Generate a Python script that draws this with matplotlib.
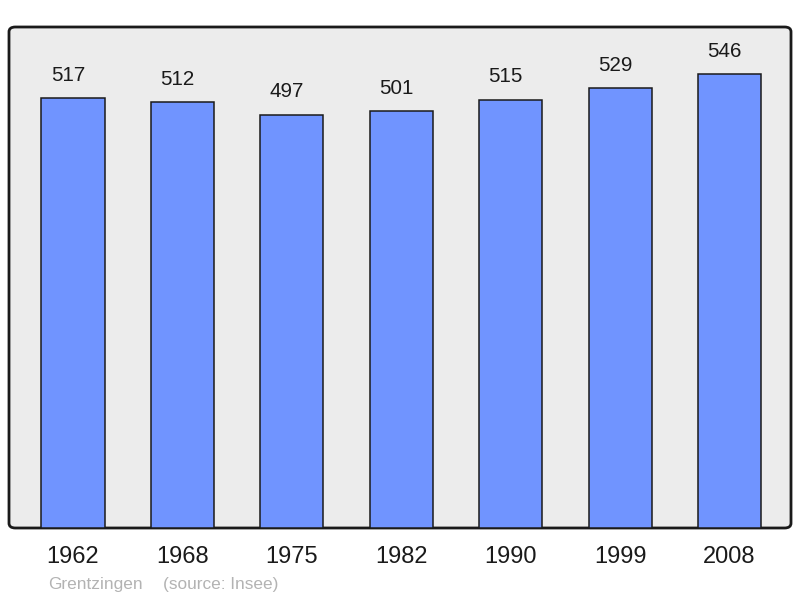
import matplotlib
matplotlib.use("Agg")
import matplotlib.pyplot as plt
from matplotlib.patches import FancyBboxPatch

years = ["1962", "1968", "1975", "1982", "1990", "1999", "2008"]
population = [517, 512, 497, 501, 515, 529, 546]
place = "Grentzingen"
source = "(source: Insee)"

plt.rcParams['font.family'] = ['Liberation Sans', 'DejaVu Sans']

fig = plt.figure(figsize=(8, 5.98), dpi=100)
ax = fig.add_axes([9 / 800, 70 / 598, 782 / 800, 501 / 598])
ax.set_facecolor("none")
ax.set_zorder(2)

# rounded gray frame behind the axes
frame = FancyBboxPatch((9 / 800, 70 / 598), 782 / 800, 501 / 598,
                       boxstyle="round,pad=0,rounding_size=0.008",
                       transform=fig.transFigure, facecolor="#ececec",
                       edgecolor="#1a1a1a", linewidth=2, zorder=-1)
fig.patches.append(frame)

x = range(len(years))
bars = ax.bar(x, population, width=0.576, color="#7094ff",
              edgecolor="#1a1a1a", linewidth=1.1, zorder=2)

# value labels sit a little left of the bar centre in the original
for xi, v in zip(x, population):
    ax.text(xi - 0.045, v + 16, str(v), ha="center", va="bottom",
            fontsize=14.8, color="#1a1a1a")

ax.set_xlim(-0.585, 6.562)
ax.set_ylim(0, 602.5)
ax.set_xticks(list(x))
ax.set_xticklabels(years, fontsize=17, color="#1a1a1a")
ax.tick_params(axis="x", length=0, pad=13)
ax.set_yticks([])
for s in ax.spines.values():
    s.set_visible(False)

fig.text(48 / 800, 1 - 584 / 598, place, fontsize=12.4, color="#b3b3b3",
         va="center", ha="left")
fig.text(163 / 800, 1 - 584 / 598, source, fontsize=12.4, color="#b3b3b3",
         va="center", ha="left")

fig.savefig("out.png", dpi=100)
